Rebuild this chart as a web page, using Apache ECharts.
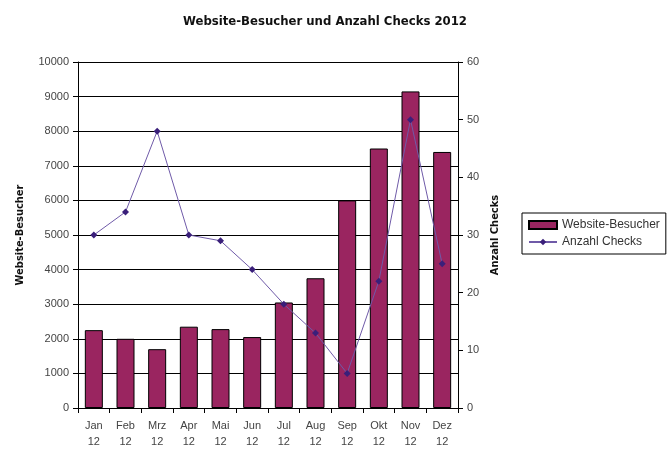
<!DOCTYPE html>
<html>
<head>
<meta charset="utf-8">
<script src="https://cdn.jsdelivr.net/npm/echarts@6/dist/echarts.min.js"></script>
<style>
  html, body { margin: 0; padding: 0; background: #fff; }
  #chart { width: 667px; height: 450px; }
</style>
</head>
<body>
<div id="chart"></div>
<script>
const months = ['Jan\n12', 'Feb\n12', 'Mrz\n12', 'Apr\n12', 'Mai\n12', 'Jun\n12',
                'Jul\n12', 'Aug\n12', 'Sep\n12', 'Okt\n12', 'Nov\n12', 'Dez\n12'];
// Website-Besucher (linke Achse)
const besucher = [2250, 2000, 1700, 2350, 2280, 2050, 3050, 3750, 6000, 7500, 9150, 7400];
// Anzahl Checks (rechte Achse)
const checks = [30, 34, 48, 30, 29, 24, 18, 13, 6, 22, 50, 25];

let myChart = echarts.init(document.getElementById('chart'));
let option = {
  animation: false,
  title: {
    text: 'Website-Besucher und Anzahl Checks 2012',
    left: 320,
    textAlign: 'center',
    top: 10,
    textStyle: { fontFamily: 'DejaVu Sans Condensed', fontWeight: 'bold', fontSize: 13, color: '#111' }
  },
  legend: {
    orient: 'vertical',
    left: 522,
    top: 213,
    padding: [6, 6, 6, 6],
    itemGap: 5,
    itemWidth: 28,
    itemHeight: 8,
    borderColor: '#000',
    borderWidth: 1,
    borderRadius: 0,
    textStyle: { fontFamily: 'Liberation Sans', fontSize: 12, color: '#333' },
    data: [
      { name: 'Website-Besucher', icon: 'rect' },
      { name: 'Anzahl Checks' }
    ]
  },
  grid: { left: 78, right: 209, top: 62, bottom: 41 },
  xAxis: {
    type: 'category',
    data: months,
    axisLine: { lineStyle: { color: '#000' } },
    axisTick: { show: true, length: 5, lineStyle: { color: '#000' } },
    axisLabel: { fontFamily: 'Liberation Sans', fontSize: 11, color: '#444', lineHeight: 16, margin: 10 }
  },
  yAxis: [
    {
      type: 'value',
      name: 'Website-Besucher',
      nameLocation: 'middle',
      nameRotate: 90,
      nameGap: 52,
      nameTextStyle: { fontFamily: 'DejaVu Sans Condensed', fontWeight: 'bold', fontSize: 11, color: '#111' },
      min: 0, max: 10000, interval: 1000,
      axisLine: { show: true, lineStyle: { color: '#000' } },
      axisTick: { show: true, length: 5, lineStyle: { color: '#000' } },
      axisLabel: { fontFamily: 'Liberation Sans', fontSize: 11, color: '#444', margin: 9,
                   formatter: function (v) { return String(v); } },
      splitLine: { show: true, lineStyle: { color: '#000', width: 1 } }
    },
    {
      type: 'value',
      name: 'Anzahl Checks',
      nameLocation: 'middle',
      nameRotate: 90,
      nameGap: 32,
      nameTextStyle: { fontFamily: 'DejaVu Sans Condensed', fontWeight: 'bold', fontSize: 11, color: '#111' },
      min: 0, max: 60, interval: 10,
      axisLine: { show: true, lineStyle: { color: '#000' } },
      axisTick: { show: true, length: 5, lineStyle: { color: '#000' } },
      axisLabel: { fontFamily: 'Liberation Sans', fontSize: 11, color: '#444', margin: 9 },
      splitLine: { show: false }
    }
  ],
  series: [
    {
      name: 'Website-Besucher',
      type: 'bar',
      data: besucher,
      barWidth: 18,
      itemStyle: { color: '#9a2560', borderColor: '#000', borderWidth: 1 }
    },
    {
      name: 'Anzahl Checks',
      type: 'line',
      yAxisIndex: 1,
      data: checks,
      symbol: 'diamond',
      symbolSize: 7,
      lineStyle: { color: '#6f5aa8', width: 1 },
      itemStyle: { color: '#3a1f7a' }
    }
  ]
};
myChart.setOption(option);
</script>
</body>
</html>
